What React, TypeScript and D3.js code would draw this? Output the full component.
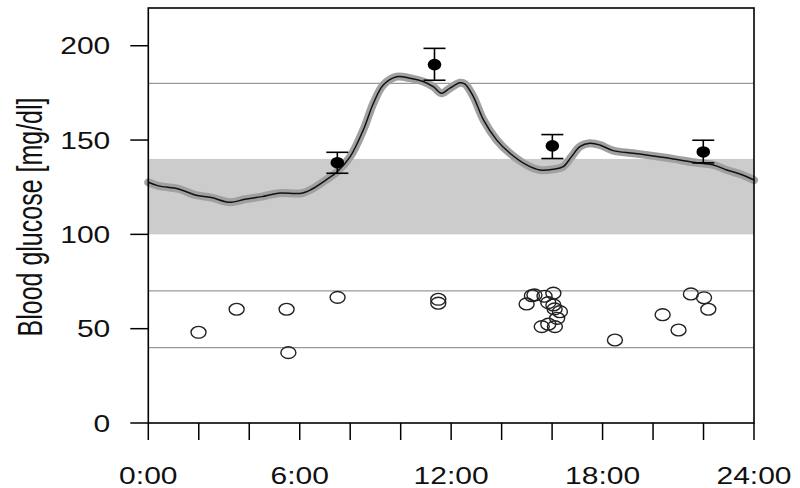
import React from "react";
import * as d3 from "d3";

const curveHours = [0, 0.4, 1.2, 1.85, 2.5, 3.24, 3.83, 4.5, 5.15, 6.08, 6.47, 7.13, 7.47, 8.0, 8.52, 8.92, 9.31, 9.84, 10.37, 10.89, 11.29, 11.62, 11.95, 12.35, 12.55, 12.88, 13.28, 13.8, 14.33, 14.99, 15.52, 16.05, 16.44, 16.77, 17.1, 17.5, 17.89, 18.42, 19.21, 20.0, 20.8, 21.6, 22.39, 22.92, 23.44, 24];
const curveValues = [127.6, 125.7, 124.1, 120.9, 119.5, 117.0, 118.6, 120.0, 121.8, 121.8, 123.9, 129.7, 133.0, 141.2, 155.4, 169.5, 179.2, 183.6, 182.8, 181.0, 178.3, 174.8, 177.5, 180.4, 179.7, 173.0, 160.7, 150.1, 143.0, 136.8, 134.1, 134.5, 135.9, 141.2, 146.5, 148.3, 147.4, 144.4, 143.0, 141.6, 140.0, 138.2, 136.8, 134.1, 132.0, 128.8];

const meanHours = [7.49, 11.34, 16.01, 21.99];
const meanValues = [138.0, 190.0, 146.9, 143.7];
const meanUpper = [143.5, 198.6, 152.9, 149.9];
const meanLower = [132.4, 181.7, 140.2, 137.9];

const lowHours = [1.99, 3.5, 5.48, 5.55, 7.5, 11.49, 11.49, 14.99, 15.2, 15.3, 15.7, 15.85, 16.05, 16.05, 16.1, 16.31, 16.2, 15.59, 15.85, 16.11, 18.49, 20.38, 21.01, 21.5, 22.02, 22.19];
const lowValues = [48.1, 60.3, 60.3, 37.3, 66.6, 65.6, 63.5, 63.1, 67.5, 67.9, 67.2, 63.8, 68.8, 62.6, 60.5, 59.0, 55.5, 51.1, 52.4, 51.1, 44.0, 57.4, 49.3, 68.4, 66.4, 60.3];

const targetBand = [100, 140];
const refLines = [180, 70, 40];
const yTicks = [0, 50, 100, 150, 200];
const xTicks = [0, 2, 4, 6, 8, 10, 12, 14, 16, 18, 20, 22, 24];
const xLabelTicks = [0, 6, 12, 18, 24];

const W = 800, H = 488;
const L = 148.3, R = 754, T = 8, B = 423;
const SX = 1.25;
const FONT = "'Liberation Sans', Arial, Helvetica, sans-serif";

export default function App() {
  const x = d3.scaleLinear().domain([0, 24]).range([L, R]);
  const y = d3.scaleLinear().domain([0, 220]).range([B, T]);
  const pts = curveHours.map((h, i) => [h, curveValues[i]] as [number, number]);
  const line = d3.line<[number, number]>().x(d => x(d[0])).y(d => y(d[1])).curve(d3.curveCatmullRom.alpha(0.5));
  const path = line(pts) || "";
  const capW = 11;
  return (
    <svg width={W} height={H} style={{ position: "absolute", left: 0, top: 0, background: "#fff" }} fontFamily={FONT}>
      <rect x={0} y={0} width={W} height={H} fill="#fff" />
      <rect x={L} y={y(targetBand[1])} width={R - L} height={y(targetBand[0]) - y(targetBand[1])} fill="#cccccc" />
      {refLines.map(v => (
        <line key={v} x1={L} x2={R} y1={y(v)} y2={y(v)} stroke="#9a9a9a" strokeWidth={1.3} />
      ))}
      <path d={path} fill="none" stroke="#a0a0a0" strokeWidth={8} strokeLinejoin="round" strokeLinecap="round" />
      <path d={path} fill="none" stroke="#111" strokeWidth={1.5} strokeLinejoin="round" />
      {meanHours.map((h, i) => (
        <g key={i} stroke="#000" strokeWidth={1.6}>
          <line x1={x(h)} x2={x(h)} y1={y(meanUpper[i])} y2={y(meanLower[i])} />
          <line x1={x(h) - capW} x2={x(h) + capW} y1={y(meanUpper[i])} y2={y(meanUpper[i])} />
          <line x1={x(h) - capW} x2={x(h) + capW} y1={y(meanLower[i])} y2={y(meanLower[i])} />
          <ellipse cx={x(h)} cy={y(meanValues[i])} rx={6.8} ry={5.8} fill="#000" stroke="none" />
        </g>
      ))}
      {lowHours.map((h, i) => (
        <ellipse key={i} cx={x(h)} cy={y(lowValues[i])} rx={7.5} ry={5.9} fill="none" stroke="#222" strokeWidth={1.4} />
      ))}
      <rect x={L} y={T} width={R - L} height={B - T} fill="none" stroke="#000" strokeWidth={1.6} />
      {yTicks.map(v => (
        <g key={v}>
          <line x1={L - 18} x2={L} y1={y(v)} y2={y(v)} stroke="#000" strokeWidth={1.5} />
          <text transform={`translate(${L - 38},${y(v) + 8.5}) scale(${SX},1)`} textAnchor="end" fontSize={24} fill="#111">{v}</text>
        </g>
      ))}
      {xTicks.map(h => (
        <line key={h} x1={x(h)} x2={x(h)} y1={B} y2={B + 17} stroke="#000" strokeWidth={1.5} />
      ))}
      {xLabelTicks.map(h => (
        <text key={h} transform={`translate(${x(h)},${483.5}) scale(${SX},1)`} textAnchor="middle" fontSize={24} fill="#111">{`${h}:00`}</text>
      ))}
      <text transform={`translate(41.5,217) scale(1.4,1) rotate(-90)`} textAnchor="middle" fontSize={25} fill="#111">Blood glucose [mg/dl]</text>
    </svg>
  );
}
